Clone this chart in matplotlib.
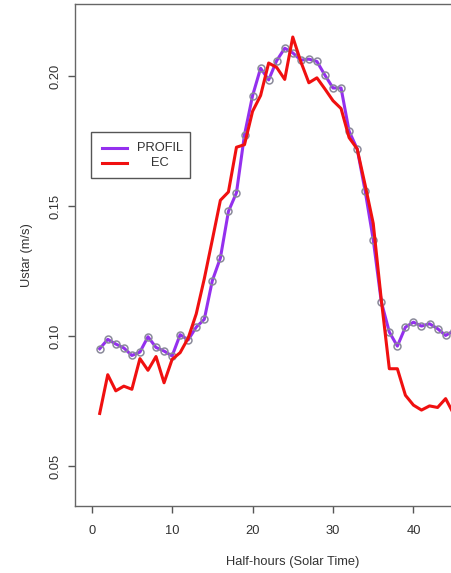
import matplotlib
matplotlib.use("Agg")
import matplotlib.pyplot as plt
from matplotlib.patches import Rectangle
from matplotlib.lines import Line2D

half_hours = list(range(1, 46))
profil = [0.0951, 0.0987, 0.0969, 0.0954, 0.0925, 0.0938, 0.0997, 0.0956, 0.0942, 0.0923,
          0.1005, 0.0985, 0.1034, 0.1064, 0.1213, 0.1300, 0.1479, 0.1551, 0.1774, 0.1924,
          0.2030, 0.1985, 0.2059, 0.2107, 0.2089, 0.2061, 0.2065, 0.2056, 0.2003, 0.1954,
          0.1954, 0.1788, 0.1720, 0.1557, 0.1371, 0.1132, 0.1015, 0.0961, 0.1034, 0.1053,
          0.1038, 0.1047, 0.1028, 0.1002, 0.1020]
ec = [0.0702, 0.0851, 0.0789, 0.0807, 0.0795, 0.0913, 0.0868, 0.0921, 0.0820, 0.0910,
      0.0936, 0.0992, 0.1085, 0.1220, 0.1370, 0.1522, 0.1554, 0.1726, 0.1736, 0.1864,
      0.1925, 0.2050, 0.2033, 0.1987, 0.2150, 0.2055, 0.1974, 0.1993, 0.1950, 0.1905,
      0.1875, 0.1763, 0.1720, 0.1580, 0.1433, 0.1140, 0.0874, 0.0874, 0.0772, 0.0734,
      0.0715, 0.0731, 0.0725, 0.0759, 0.0700]
xticks = [0, 10, 20, 30, 40]
yticks = [0.05, 0.10, 0.15, 0.20]
ytick_labels = ["0.05", "0.10", "0.15", "0.20"]
series_names = ["PROFIL", "EC"]

W, H = 452, 573
plt.rcParams['font.family'] = ['Liberation Sans', 'DejaVu Sans']
fig = plt.figure(figsize=(W / 100, H / 100), dpi=100)
fig.patch.set_facecolor('white')

left_px, right_px, top_px, bot_px = 75, 511.6, 4, 506
ax = fig.add_axes([left_px / W, 1 - bot_px / H, (right_px - left_px) / W, (bot_px - top_px) / H])
ax.set_xlim(-2.07, 52.2)
ax.set_ylim(0.0346, 0.2277)

purple = '#9430EE'
red = '#F01010'
ax.plot(half_hours, profil, color=purple, lw=2.2, zorder=2)
ax.plot(half_hours, profil, linestyle='none', marker='o', ms=5, mfc='none',
        mec='#8a8a9a', mew=1.1, zorder=3)
ax.plot(half_hours, ec, color=red, lw=2.2, zorder=4)

for s in ax.spines.values():
    s.set_color('#666666')
    s.set_linewidth(1.0)
ax.spines['right'].set_visible(False)

tc = '#333333'
ax.set_xticks(xticks)
ax.set_xticklabels([str(v) for v in xticks])
ax.set_yticks(yticks)
ax.set_yticklabels(ytick_labels, rotation=90, va='center')
ax.tick_params(axis='both', length=5, width=1, color='#555555', labelsize=9.3, labelcolor=tc)
ax.tick_params(axis='x', pad=9)
ax.tick_params(axis='y', pad=5)

fig.text(293 / W, 1 - 562 / H, "Half-hours (Solar Time)", ha='center', va='center',
         fontsize=9.3, color=tc)
fig.text(27 / W, 1 - 255 / H, "Ustar (m/s)", ha='center', va='center', rotation=90,
         fontsize=9.3, color=tc)

# legend
def fx(px):
    return px / W

def fy(py):
    return 1 - py / H

fig.add_artist(Rectangle((fx(91), fy(177.7)), fx(190.3) - fx(91), fy(131.7) - fy(177.7),
                         transform=fig.transFigure, facecolor='white', edgecolor='#555555',
                         lw=1.0, zorder=10))
for py, col, name in [(147.7, purple, series_names[0]), (162.7, red, series_names[1])]:
    fig.add_artist(Line2D([fx(102.3), fx(126.7)], [fy(py), fy(py)], color=col, lw=2.2,
                          transform=fig.transFigure, zorder=11))
    fig.text(fx(160), fy(py), name, ha='center', va='center', fontsize=9.3, color=tc, zorder=12)

fig.savefig("out.png", dpi=100, facecolor='white')
